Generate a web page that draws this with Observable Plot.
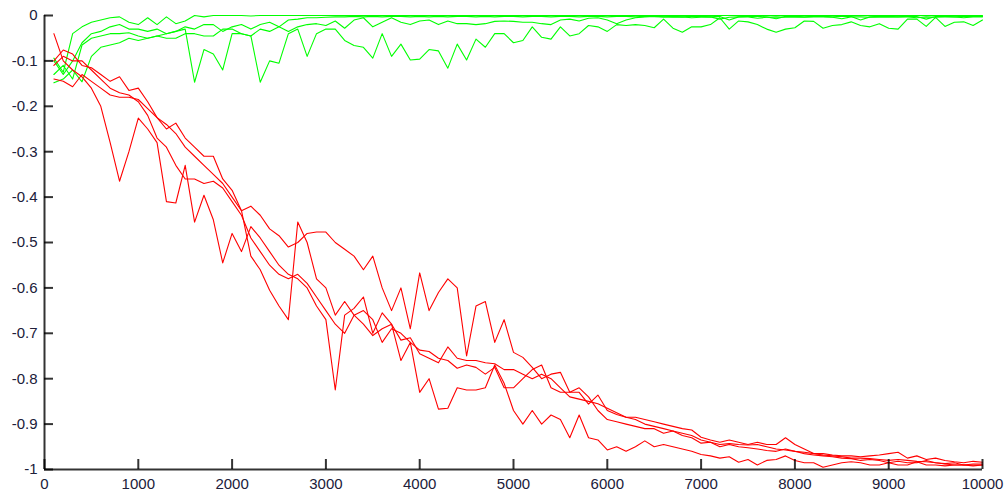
<!DOCTYPE html>
<html>
<head>
<meta charset="utf-8">
<script src="https://cdn.jsdelivr.net/npm/d3@7"></script>
<script src="https://cdn.jsdelivr.net/npm/@observablehq/plot@0.6"></script>
<style>
  html, body { margin: 0; padding: 0; background: #ffffff; }
  #chart svg { font-family: "Liberation Sans", Arial, sans-serif; font-size: 15px; color: #20203a; background: #ffffff; }
</style>
</head>
<body>
<div id="chart"></div>
<script>
// Iteration steps (x) shared by all series
const steps = [100,200,300,400,500,600,700,800,900,1000,1100,1200,1300,1400,1500,1600,1700,1800,1900,2000,
2100,2200,2300,2400,2500,2600,2700,2800,2900,3000,3100,3200,3300,3400,3500,3600,3700,3800,3900,4000,
4100,4200,4300,4400,4500,4600,4700,4800,4900,5000,5100,5200,5300,5400,5500,5600,5700,5800,5900,6000,
6100,6200,6300,6400,6500,6600,6700,6800,6900,7000,7100,7200,7300,7400,7500,7600,7700,7800,7900,8000,
8100,8200,8300,8400,8500,8600,8700,8800,8900,9000,9100,9200,9300,9400,9500,9600,9700,9800,9900,10000];

// Red series
const redA = [-0.04,-0.10,-0.12,-0.135,-0.16,-0.20,-0.28,-0.365,-0.30,-0.226,
-0.25,-0.28,-0.41,-0.413,-0.33,-0.455,-0.396,-0.45,-0.545,-0.48,
-0.52,-0.465,-0.49,-0.52,-0.55,-0.57,-0.58,-0.60,-0.64,-0.67,
-0.825,-0.66,-0.645,-0.62,-0.70,-0.655,-0.68,-0.76,-0.72,-0.83,
-0.80,-0.867,-0.865,-0.82,-0.825,-0.825,-0.82,-0.77,-0.81,-0.87,
-0.90,-0.87,-0.90,-0.88,-0.89,-0.93,-0.88,-0.93,-0.935,-0.957,
-0.95,-0.96,-0.95,-0.937,-0.95,-0.945,-0.95,-0.955,-0.96,-0.967,
-0.97,-0.975,-0.972,-0.984,-0.978,-0.99,-0.98,-0.978,-0.97,-0.98,
-0.985,-0.985,-0.995,-0.99,-0.985,-0.983,-0.985,-0.99,-0.99,-0.985,
-0.99,-0.99,-0.983,-0.99,-0.99,-0.992,-0.99,-0.99,-0.988,-0.988];

const redB = [-0.10,-0.076,-0.085,-0.11,-0.115,-0.13,-0.145,-0.135,-0.165,-0.16,
-0.19,-0.225,-0.25,-0.237,-0.27,-0.29,-0.31,-0.31,-0.36,-0.385,
-0.43,-0.42,-0.44,-0.47,-0.485,-0.51,-0.50,-0.48,-0.477,-0.477,
-0.50,-0.515,-0.53,-0.56,-0.53,-0.60,-0.65,-0.60,-0.69,-0.567,
-0.65,-0.61,-0.58,-0.60,-0.75,-0.64,-0.63,-0.72,-0.67,-0.742,
-0.753,-0.775,-0.80,-0.79,-0.786,-0.83,-0.83,-0.856,-0.836,-0.87,
-0.879,-0.885,-0.885,-0.89,-0.895,-0.90,-0.905,-0.91,-0.913,-0.929,
-0.935,-0.94,-0.935,-0.94,-0.945,-0.94,-0.945,-0.945,-0.93,-0.945,
-0.955,-0.965,-0.965,-0.968,-0.97,-0.97,-0.972,-0.97,-0.968,-0.965,
-0.962,-0.975,-0.97,-0.978,-0.975,-0.98,-0.983,-0.985,-0.982,-0.984];

const redC = [-0.14,-0.145,-0.157,-0.13,-0.145,-0.16,-0.175,-0.18,-0.18,-0.185,
-0.205,-0.225,-0.24,-0.26,-0.29,-0.31,-0.33,-0.35,-0.37,-0.40,
-0.43,-0.53,-0.56,-0.605,-0.64,-0.67,-0.455,-0.50,-0.58,-0.60,
-0.66,-0.63,-0.66,-0.68,-0.705,-0.69,-0.68,-0.715,-0.71,-0.745,
-0.755,-0.765,-0.73,-0.755,-0.76,-0.76,-0.765,-0.767,-0.78,-0.78,
-0.79,-0.80,-0.79,-0.80,-0.82,-0.84,-0.845,-0.85,-0.855,-0.865,
-0.875,-0.885,-0.89,-0.90,-0.905,-0.91,-0.915,-0.92,-0.925,-0.935,
-0.94,-0.945,-0.943,-0.945,-0.946,-0.945,-0.95,-0.955,-0.957,-0.96,
-0.962,-0.965,-0.968,-0.97,-0.972,-0.975,-0.975,-0.976,-0.978,-0.98,
-0.978,-0.98,-0.982,-0.983,-0.985,-0.987,-0.985,-0.99,-0.99,-0.99];

const redD = [-0.11,-0.09,-0.10,-0.10,-0.12,-0.14,-0.16,-0.17,-0.175,-0.19,
-0.22,-0.27,-0.29,-0.33,-0.36,-0.36,-0.37,-0.365,-0.38,-0.41,
-0.44,-0.49,-0.52,-0.55,-0.57,-0.58,-0.57,-0.59,-0.62,-0.65,
-0.68,-0.70,-0.66,-0.65,-0.67,-0.72,-0.69,-0.70,-0.72,-0.737,
-0.74,-0.755,-0.76,-0.777,-0.77,-0.775,-0.79,-0.775,-0.82,-0.82,
-0.80,-0.78,-0.77,-0.82,-0.83,-0.83,-0.82,-0.84,-0.87,-0.89,
-0.895,-0.90,-0.905,-0.91,-0.91,-0.92,-0.915,-0.925,-0.93,-0.942,
-0.94,-0.95,-0.945,-0.95,-0.952,-0.955,-0.958,-0.96,-0.955,-0.96,
-0.965,-0.968,-0.97,-0.972,-0.975,-0.976,-0.98,-0.978,-0.98,-0.985,
-0.982,-0.985,-0.985,-0.98,-0.985,-0.988,-0.99,-0.99,-0.992,-0.99];

// Green series
const greenA = [-0.094,-0.125,-0.04,-0.025,-0.015,-0.01,-0.005,-0.003,-0.015,-0.02,
-0.005,-0.02,-0.003,-0.018,-0.012,0,-0.003,0,0,0,
0,-0.001,0,0,0,0,0,0,0,0,
0,0,0,0,0,0,0,0,0,0,
0,0,0,0,0,0,0,0,0,0,
0,0,0,0,0,0,0,0,0,0,
0,0,0,0,0,0,0,0,0,0,
0,0,0,0,0,0,0,0,0,0,
0,0,0,0,0,0,0,0,0,0,
0,0,0,0,0,0,0,0,0,0];

const greenB = [-0.10,-0.13,-0.10,-0.06,-0.04,-0.035,-0.025,-0.02,-0.03,-0.03,
-0.035,-0.03,-0.04,-0.035,-0.025,-0.03,-0.02,-0.02,-0.035,-0.025,
-0.02,-0.03,-0.02,-0.015,-0.025,-0.01,-0.008,-0.005,-0.005,-0.004,
-0.003,-0.003,-0.002,-0.003,-0.002,-0.003,-0.002,-0.002,-0.003,-0.002,
-0.003,-0.002,-0.003,-0.002,-0.002,-0.003,-0.002,-0.003,-0.002,-0.002,
-0.003,-0.002,-0.002,-0.003,-0.002,-0.002,-0.003,-0.002,-0.002,-0.003,
-0.002,-0.002,-0.003,-0.002,-0.002,-0.003,-0.002,-0.003,-0.002,-0.002,
-0.003,-0.002,-0.01,-0.003,-0.002,-0.002,-0.003,-0.007,-0.002,-0.002,
-0.003,-0.002,-0.002,-0.003,-0.002,-0.002,-0.01,-0.003,-0.002,-0.002,
-0.003,-0.002,-0.002,-0.008,-0.002,-0.002,-0.003,-0.002,-0.002,-0.002];

const greenC = [-0.13,-0.11,-0.14,-0.065,-0.05,-0.045,-0.04,-0.04,-0.038,-0.045,
-0.05,-0.045,-0.05,-0.05,-0.04,-0.04,-0.045,-0.045,-0.03,-0.03,
-0.04,-0.045,-0.03,-0.035,-0.025,-0.035,-0.025,-0.02,-0.018,-0.022,
-0.012,-0.028,-0.01,-0.005,-0.025,-0.015,-0.005,-0.015,-0.02,-0.012,
-0.01,-0.02,-0.012,-0.018,-0.018,-0.02,-0.018,-0.013,-0.012,-0.013,
-0.015,-0.015,-0.018,-0.02,-0.01,-0.008,-0.012,-0.006,-0.005,-0.01,
-0.018,-0.01,-0.005,-0.003,-0.002,-0.003,-0.004,-0.003,-0.005,-0.004,
-0.003,-0.008,-0.004,-0.003,-0.003,-0.006,-0.004,-0.003,-0.004,-0.003,
-0.004,-0.003,-0.003,-0.004,-0.007,-0.003,-0.003,-0.004,-0.003,-0.004,
-0.003,-0.003,-0.005,-0.003,-0.004,-0.003,-0.003,-0.005,-0.003,-0.003];

const greenD = [-0.148,-0.14,-0.12,-0.146,-0.09,-0.07,-0.065,-0.06,-0.05,-0.055,
-0.05,-0.045,-0.04,-0.035,-0.03,-0.147,-0.075,-0.085,-0.12,-0.04,
-0.04,-0.045,-0.147,-0.10,-0.105,-0.04,-0.03,-0.09,-0.04,-0.03,
-0.03,-0.055,-0.066,-0.07,-0.094,-0.04,-0.09,-0.063,-0.098,-0.096,
-0.075,-0.078,-0.116,-0.063,-0.098,-0.052,-0.07,-0.04,-0.04,-0.06,
-0.055,-0.025,-0.048,-0.052,-0.025,-0.045,-0.04,-0.022,-0.025,-0.035,
-0.02,-0.022,-0.02,-0.022,-0.027,-0.008,-0.028,-0.037,-0.025,-0.025,
-0.02,-0.005,-0.03,-0.012,-0.014,-0.02,-0.03,-0.037,-0.03,-0.027,
-0.012,-0.013,-0.028,-0.022,-0.02,-0.014,-0.022,-0.025,-0.018,-0.028,
-0.03,-0.008,-0.008,-0.024,-0.004,-0.024,-0.015,-0.014,-0.022,-0.01];

const xTicks = [0,1000,2000,3000,4000,5000,6000,7000,8000,9000,10000];
const yTicks = [0,-0.1,-0.2,-0.3,-0.4,-0.5,-0.6,-0.7,-0.8,-0.9,-1];

const greens = {greenA, greenB, greenC, greenD};
const reds = {redA, redB, redC, redD};

function toRows(name, values) {
  return values.map((v, i) => ({series: name, x: steps[i], y: v}));
}

const W = 1006, H = 494;
const mL = 44, mR = 24, mT = 15, mB = 25;
const xDomain = [0, 10000], yDomain = [-1, 0];
const frameW = W - mL - mR, frameH = H - mT - mB;
// inward tick lengths (pixels) converted through the scale spans
const xTickLen = 10, yTickLen = 9;
const xTickSpan = xTickLen / frameH * (yDomain[1] - yDomain[0]);
const yTickSpan = yTickLen / frameW * (xDomain[1] - xDomain[0]);

const lineMarks = [];
for (const [name, vals] of Object.entries(greens)) {
  lineMarks.push(Plot.line(toRows(name, vals), {x: "x", y: "y", stroke: "lime", strokeWidth: 1.1}));
}
for (const [name, vals] of Object.entries(reds)) {
  lineMarks.push(Plot.line(toRows(name, vals), {x: "x", y: "y", stroke: "red", strokeWidth: 1.1}));
}

const chart = Plot.plot({
  width: W,
  height: H,
  marginLeft: mL,
  marginRight: mR,
  marginTop: mT,
  marginBottom: mB,
  x: {domain: xDomain},
  y: {domain: yDomain},
  marks: [
    ...lineMarks,
    // inward tick marks
    Plot.ruleX(xTicks, {x: d => d, y1: yDomain[0], y2: yDomain[0] + xTickSpan, stroke: "black", strokeWidth: 2, strokeOpacity: 0.8}),
    Plot.ruleY(yTicks, {y: d => d, x1: xDomain[0], x2: xDomain[0] + yTickSpan, stroke: "black", strokeWidth: 2, strokeOpacity: 0.8}),
    // axis lines
    Plot.ruleX([xDomain[0]], {stroke: "black", strokeWidth: 2, strokeOpacity: 0.8}),
    Plot.ruleY([yDomain[0]], {stroke: "black", strokeWidth: 2, strokeOpacity: 0.8}),
    // tick labels
    Plot.axisX({ticks: xTicks, tickSize: 0, tickPadding: 8.5, tickFormat: d => String(d), label: null}),
    Plot.axisY({ticks: yTicks, tickSize: 0, tickPadding: 7, tickFormat: d => String(d), label: null})
  ]
});

document.getElementById("chart").appendChild(chart);
</script>
</body>
</html>
